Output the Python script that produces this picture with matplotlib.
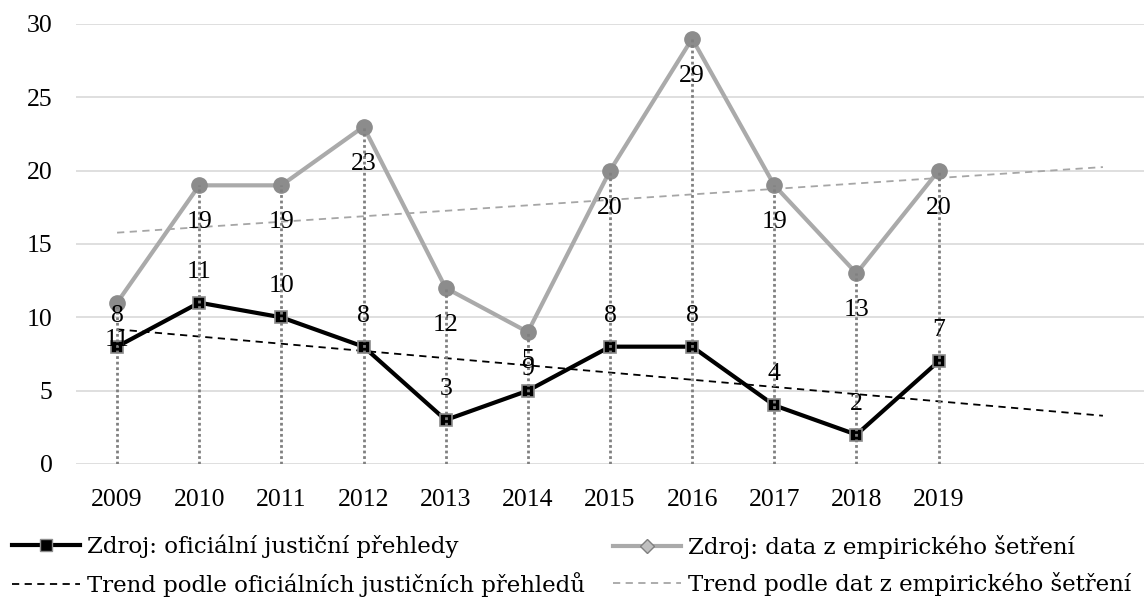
import numpy as np
import matplotlib
matplotlib.use("Agg")
import matplotlib.pyplot as plt
from matplotlib.lines import Line2D

years = ["2009", "2010", "2011", "2012", "2013", "2014", "2015", "2016", "2017", "2018", "2019"]
official = [8, 11, 10, 8, 3, 5, 8, 8, 4, 2, 7]
empirical = [11, 19, 19, 23, 12, 9, 20, 29, 19, 13, 20]
yticks = [0, 5, 10, 15, 20, 25, 30]
label_official = "Zdroj: oficiální justiční přehledy"
label_empirical = "Zdroj: data z empirického šetření"
label_trend_off = "Trend podle oficiálních justičních přehledů"
label_trend_emp = "Trend podle dat z empirického šetření"
forecast_periods = 1

plt.rcParams['font.family'] = ['Liberation Serif', 'DejaVu Serif']
FS = 18.5
LFS = 16.5
LEG_FONT = ['DejaVu Serif']

fig = plt.figure(figsize=(11.44, 5.98), dpi=100)
ax = fig.add_axes([76/1144, 1-464/598, 1-76/1144, (464-24)/598])

x = np.arange(len(years))

# trend lines
p_off = np.polyfit(x, official, 1)
p_emp = np.polyfit(x, empirical, 1)
xt = np.linspace(0, len(years) + forecast_periods, 2)
ax.plot(xt, np.polyval(p_off, xt), color='black', lw=1.3, ls=(0, (4, 3)), zorder=2)
ax.plot(xt, np.polyval(p_emp, xt), color='#a6a6a6', lw=1.3, ls=(0, (4, 3)), zorder=2)

# series
ax.plot(x, empirical, color='#aaaaaa', lw=3, marker='o', ms=11,
        mfc='#8c8c8c', mec='#8c8c8c', zorder=3)
ax.plot(x, official, color='black', lw=3, marker='s', ms=9,
        mfc='black', mec='#8c8c8c', mew=1.2, zorder=4)

# drop lines
tops = np.maximum(official, empirical)
ax.vlines(x, 0, tops, colors='#808080', lw=2, linestyles=(0, (1, 1)), zorder=5)

# data labels
for xi, v in zip(x, official):
    ax.annotate(str(v), (xi, v), xytext=(0, 31), textcoords='offset pixels',
                ha='center', va='center', fontsize=FS, zorder=6)
for xi, v in zip(x, empirical):
    ax.annotate(str(v), (xi, v), xytext=(0, -37), textcoords='offset pixels',
                ha='center', va='center', fontsize=FS, zorder=6)

ax.set_xlim(-0.5, len(years) + 1.5)
ax.set_ylim(0, 30)
ax.set_yticks(yticks)
ax.set_yticklabels([str(t) for t in yticks], fontsize=FS)
ax.set_xticks(x)
ax.set_xticklabels(years, fontsize=FS)
ax.tick_params(axis='both', length=0)
ax.tick_params(axis='y', pad=17)
ax.tick_params(axis='x', pad=18)
ax.grid(axis='y', color='#d9d9d9', lw=1.2, zorder=0)
ax.set_axisbelow(True)
for s in ax.spines.values():
    s.set_visible(False)

h_off = Line2D([], [], color='black', lw=3, marker='s', ms=8, mfc='black', mec='#8c8c8c')
h_toff = Line2D([], [], color='black', lw=1.3, ls=(0, (4, 3)))
h_emp = Line2D([], [], color='#aaaaaa', lw=3, marker='D', ms=7, mfc='#bfbfbf', mec='#7f7f7f')
h_temp = Line2D([], [], color='#a6a6a6', lw=1.3, ls=(0, (4, 3)))

common = dict(loc='upper left', frameon=False, prop={'family': LEG_FONT, 'size': LFS},
              handlelength=2.97, handletextpad=0.3, labelspacing=0.58,
              borderaxespad=0, borderpad=0)
fig.legend([h_off, h_toff], [label_official, label_trend_off],
           bbox_to_anchor=(12/1144, 1-535/598), **common)
fig.legend([h_emp, h_temp], [label_empirical, label_trend_emp],
           bbox_to_anchor=(613/1144, 1-535/598), **common)

fig.savefig("out.png", dpi=100)
